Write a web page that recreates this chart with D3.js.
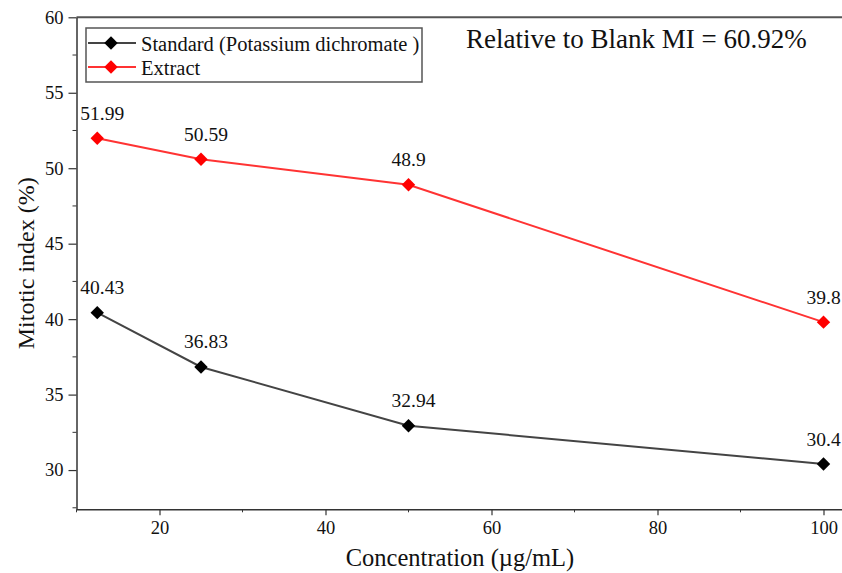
<!DOCTYPE html>
<html>
<head>
<meta charset="utf-8">
<script src="https://cdn.jsdelivr.net/npm/d3@7"></script>
<style>
  body { margin: 0; background: #fff; }
  svg, svg text { font-family: "Liberation Serif", "Times New Roman", Times, serif; }
</style>
</head>
<body>
<div id="chart"></div>
<script>
// concentrations (µg/mL)
const conc = [12.5, 25, 50, 100];
const standardMI = [40.43, 36.83, 32.94, 30.4];
const extractMI = [51.99, 50.59, 48.9, 39.8];
const seriesNames = ["Standard (Potassium dichromate )", "Extract"];
const xTicks = [20, 40, 60, 80, 100];
const xMinor = [10, 30, 50, 70, 90];
const yTicks = [30, 35, 40, 45, 50, 55, 60];
const yMinor = [27.5, 32.5, 37.5, 42.5, 47.5, 52.5, 57.5];
const blankNote = "Relative to Blank MI = 60.92%";

const width = 842, height = 573;
const margin = {left: 76.5, right: 0, top: 17.3, bottom: 63.7};
const serif = "'Liberation Serif', 'Times New Roman', Times, serif";

const svg = d3.select("#chart").append("svg")
    .attr("width", width)
    .attr("height", height)
    .attr("font-family", serif);

const xScale = d3.scaleLinear()
    .domain([10, 102.6])
    .range([margin.left, margin.left + 92.6 * 8.3]);

const yScale = d3.scaleLinear()
    .domain([27.4, 60])
    .range([height - margin.bottom, margin.top]);

const axisColor = "#333";

// frame top line
svg.append("line")
    .attr("x1", margin.left).attr("x2", width)
    .attr("y1", margin.top).attr("y2", margin.top)
    .attr("stroke", "#555").attr("stroke-width", 2);

// bottom axis
let gx = svg.append("g")
    .attr("transform", `translate(0,${height - margin.bottom})`)
    .call(d3.axisBottom(xScale).tickValues(xTicks).tickSize(6).tickSizeOuter(0).tickPadding(6));
gx.append("g").selectAll("line").data(xMinor).join("line")
    .attr("x1", d => xScale(d)).attr("x2", d => xScale(d))
    .attr("y1", 0).attr("y2", 3)
    .attr("stroke", axisColor);

// left axis
let gy = svg.append("g")
    .attr("transform", `translate(${margin.left},0)`)
    .call(d3.axisLeft(yScale).tickValues(yTicks).tickSize(8).tickSizeOuter(0).tickPadding(5));
gy.append("g").selectAll("line").data(yMinor).join("line")
    .attr("x1", 0).attr("x2", -4)
    .attr("y1", d => yScale(d)).attr("y2", d => yScale(d))
    .attr("stroke", axisColor);

[gx, gy].forEach(g => {
    g.attr("font-family", serif);
    g.selectAll(".domain").attr("stroke", axisColor).attr("stroke-width", 1.5);
    g.selectAll(".tick line").attr("stroke", axisColor).attr("stroke-width", 1.2);
    g.selectAll(".tick text")
        .attr("font-family", serif)
        .attr("font-size", 18.5)
        .attr("fill", "#111");
});
gx.selectAll(".tick text").attr("dy", "0.71em");

// axis titles
svg.append("text")
    .attr("x", 460).attr("y", 566)
    .attr("text-anchor", "middle")
    .attr("font-family", serif)
    .attr("font-size", 24.5)
    .attr("fill", "#111")
    .text("Concentration (µg/mL)");

svg.append("text")
    .attr("transform", `translate(34,${yScale(43.7)}) rotate(-90)`)
    .attr("text-anchor", "middle")
    .attr("font-family", serif)
    .attr("font-size", 24)
    .attr("fill", "#111")
    .text("Mitotic index (%)");

// series
const series = [
    {name: seriesNames[0], values: standardMI, line: "#444", marker: "#000"},
    {name: seriesNames[1], values: extractMI, line: "#f33", marker: "#ff0000"}
];

const diamond = d3.symbol().type(d3.symbolDiamond2).size(115);

series.forEach(s => {
    let pts = conc.map((c, i) => ({x: c, y: s.values[i]}));
    let linegen = d3.line().x(d => xScale(d.x)).y(d => yScale(d.y));

    svg.append("path")
        .attr("d", linegen(pts))
        .attr("stroke", s.line)
        .attr("stroke-width", 2)
        .attr("fill", "none");

    svg.append("g").selectAll("path").data(pts).join("path")
        .attr("d", diamond)
        .attr("transform", d => `translate(${xScale(d.x)},${yScale(d.y)})`)
        .attr("fill", s.marker);

    svg.append("g").selectAll("text").data(pts).join("text")
        .attr("x", d => xScale(d.x) - 17)
        .attr("y", d => yScale(d.y) - 18.5)
        .attr("font-family", serif)
        .attr("font-size", 19.5)
        .attr("fill", "#111")
        .text(d => d.y);
});

// legend
let legend = svg.append("g");
legend.append("rect")
    .attr("x", 86).attr("y", 28)
    .attr("width", 336).attr("height", 54)
    .attr("fill", "none")
    .attr("stroke", "#555")
    .attr("stroke-width", 1.5);

series.forEach((s, i) => {
    let yy = 43 + i * 24;
    legend.append("line")
        .attr("x1", 88).attr("x2", 136)
        .attr("y1", yy).attr("y2", yy)
        .attr("stroke", s.line).attr("stroke-width", 2);
    legend.append("path")
        .attr("d", diamond)
        .attr("transform", `translate(111,${yy})`)
        .attr("fill", s.marker);
    legend.append("text")
        .attr("x", 141).attr("y", yy + 7.5)
        .attr("font-family", serif)
        .attr("font-size", 20.5)
        .attr("fill", "#111")
        .text(s.name);
});

// note
svg.append("text")
    .attr("x", 466).attr("y", 48)
    .attr("font-family", serif)
    .attr("font-size", 27)
    .attr("fill", "#111")
    .text(blankNote);
</script>
</body>
</html>
